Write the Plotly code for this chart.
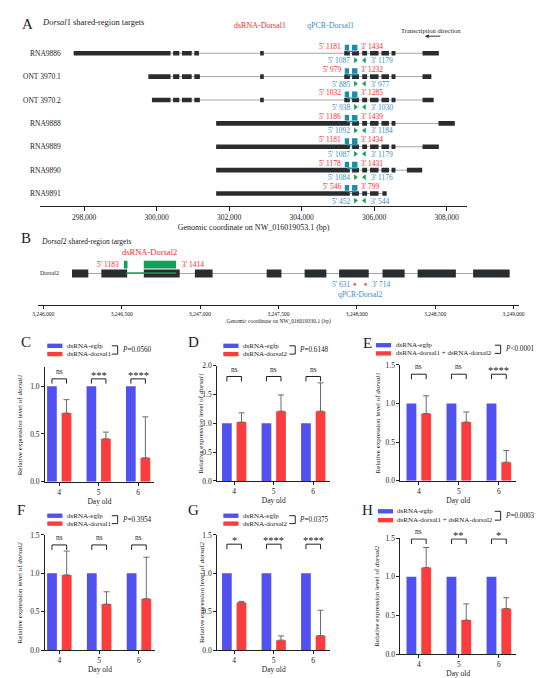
import plotly.graph_objects as go

W, H = 550, 678
SERIF = "Liberation Serif"
INK = "#222222"
BLUE_BAR = "#5151ef"
RED_BAR = "#fb3d3d"
ERR = "#6b6b6b"
EXON = "#2a2d30"
INTRON = "#a2a6aa"
TEAL = "#1b8ea6"
GREEN = "#12a058"
TXT_RED = "#f52a2e"
TXT_BLUE = "#3b8dca"

# ---- panel A: Dorsal1 transcripts, genomic bp on NW_016019053.1
transcripts = ["RNA9886", "ONT 3970.1", "ONT 3970.2", "RNA9888", "RNA9889", "RNA9890", "RNA9891"]
exons_rna9886 = [(297712, 300383), (300455, 300626), (300698, 300968), (301040, 301166), (302856, 302955),
                 (305176, 305329), (305392, 305581), (305671, 305806), (305887, 306121), (306202, 306409),
                 (306481, 306588), (307335, 307785)]
exons_ont1 = [(299772, 300383), (300455, 300626), (300698, 300968), (301040, 301193), (302856, 302955),
              (305176, 305329), (305392, 305581), (305671, 305806), (305887, 306121), (306202, 306409),
              (306481, 306588), (307335, 307578)]
exons_ont2 = [(299871, 300383), (300455, 300626), (300698, 300968), (301040, 301193), (302856, 302955),
              (305176, 305329), (305392, 305581), (305671, 305806), (305887, 306121), (306202, 306409),
              (306481, 306588), (307335, 307641)]
exons_rna9888 = [(301642, 305329), (305392, 305581), (305671, 305806), (305887, 306121), (306202, 306409),
                 (306481, 306588), (307776, 308225)]
exons_rna9889 = [(301642, 305329), (305392, 305581), (305671, 305806), (305887, 306121), (306202, 306409),
                 (306481, 306588), (307335, 307785)]
exons_rna9890 = [(301642, 305329), (305392, 305581), (305671, 305806), (305887, 306121), (306202, 306409),
                 (306481, 306588), (306903, 307326)]
exons_rna9891 = [(301642, 305329), (305392, 305581), (305671, 305806), (305887, 306121), (306229, 306346)]
dsrna1_blocks = [(305190, 305310), (305390, 305540)]
qpcr1_fwd = 305482
qpcr1_rev = 305734
dsrna1_5 = [1181, 979, 1032, 1186, 1181, 1178, 546]
dsrna1_3 = [1434, 1232, 1285, 1439, 1434, 1431, 799]
qpcr1_5 = [1087, 885, 938, 1092, 1087, 1084, 452]
qpcr1_3 = [1179, 977, 1030, 1184, 1179, 1176, 544]

# ---- panel B: Dorsal2, genomic bp on NW_016019330.1
exons_dorsal2 = [(3246183, 3246287), (3246370, 3246535), (3246641, 3246870), (3246967, 3247080),
                 (3247425, 3247519), (3247667, 3247806), (3247887, 3248076), (3248164, 3248305),
                 (3248388, 3248632), (3248742, 3248975)]
dsrna2_blocks = [(3246514, 3246537), (3246641, 3246847)]
qpcr2_fwd = 3247987
qpcr2_rev = 3248056

# ---- panels C-H: relative expression
days = ["4", "5", "6"]
egfp = [1.0, 1.0, 1.0]
c_trt = [0.72, 0.45, 0.25]
c_err = [0.14, 0.07, 0.43]
c_sig = ["ns", "***", "****"]
d_trt = [1.02, 1.21, 1.21]
d_err = [0.16, 0.28, 0.49]
d_sig = ["ns", "ns", "ns"]
e_trt = [0.87, 0.76, 0.24]
e_err = [0.23, 0.13, 0.15]
e_sig = ["ns", "ns", "****"]
f_trt = [0.98, 0.60, 0.67]
f_err = [0.31, 0.16, 0.54]
f_sig = ["ns", "ns", "ns"]
g_trt = [0.62, 0.13, 0.19]
g_err = [0.015, 0.055, 0.33]
g_sig = ["*", "****", "****"]
h_trt = [1.12, 0.44, 0.59]
h_err = [0.26, 0.21, 0.14]
h_sig = ["ns", "**", "*"]


def px(x):
    return x / W


def py(y):
    return 1 - y / H


fig = go.Figure()
shapes = []
notes = []


def note(text, x, y, size=8, color=INK, xanchor="center", yanchor="middle", xref="paper", yref="paper", **kw):
    notes.append(dict(text=text, x=x, y=y, xref=xref, yref=yref, showarrow=False, xanchor=xanchor,
                      yanchor=yanchor, font=dict(family=SERIF, size=size, color=color), **kw))


# ================= panel A =================
rows = [exons_rna9886, exons_ont1, exons_ont2, exons_rna9888, exons_rna9889, exons_rna9890, exons_rna9891]
for i, ex in enumerate(rows):
    fig.add_trace(go.Scatter(x=[ex[0][0], ex[-1][1]], y=[i, i], mode="lines", xaxis="x", yaxis="y",
                             line=dict(color=INTRON, width=1), hoverinfo="skip"))
    for a, b in ex:
        shapes.append(dict(type="rect", xref="x", yref="y", x0=a, x1=b, y0=i - 0.1, y1=i + 0.1,
                           fillcolor=EXON, line_width=0))
    for a, b in dsrna1_blocks:
        shapes.append(dict(type="rect", xref="x", yref="y", x0=a, x1=b, y0=i - 0.36, y1=i - 0.12,
                           fillcolor=TEAL, line_width=0))
    shapes.append(dict(type="line", xref="x", yref="y", x0=dsrna1_blocks[0][0] + 60, x1=dsrna1_blocks[1][1],
                       y0=i - 0.08, y1=i - 0.08, line=dict(color=TEAL, width=1.3)))
    fig.add_trace(go.Scatter(x=[qpcr1_fwd, qpcr1_rev], y=[i + 0.3, i + 0.3], mode="markers", xaxis="x", yaxis="y",
                             marker=dict(symbol=["triangle-right", "triangle-left"], size=5, color=GREEN),
                             hoverinfo="skip"))
    note(transcripts[i], px(50), i, size=7.5, xanchor="right", yref="y")
    note("5' %d" % dsrna1_5[i], dsrna1_blocks[0][0] - 60, i - 0.3, size=7.5, color=TXT_RED, xanchor="right",
         xref="x", yref="y")
    note("3' %d" % dsrna1_3[i], dsrna1_blocks[1][1] + 40, i - 0.3, size=7.5, color=TXT_RED, xanchor="left",
         xref="x", yref="y")
    note("5' %d" % qpcr1_5[i], qpcr1_fwd - 100, i + 0.32, size=7.5, color=TXT_BLUE, xanchor="right",
         xref="x", yref="y")
    note("3' %d" % qpcr1_3[i], qpcr1_rev + 120, i + 0.32, size=7.5, color=TXT_BLUE, xanchor="left",
         xref="x", yref="y")

note("A", px(13.5), py(12), size=15)
note("<i>Dorsal</i>1 shared-region targets", px(27), py(10), size=8.5, xanchor="left")
note("dsRNA-Dorsal1", px(251), py(14), size=8, color=TXT_RED)
note("qPCR-Dorsal1", px(324), py(14), size=8, color=TXT_BLUE)
note("Transcription direction", px(426), py(18.5), size=6.5)
notes.append(dict(x=px(420), y=py(24.5), xref="paper", yref="paper", text="", showarrow=True, ax=17, ay=0,
                  arrowhead=2, arrowsize=0.8, arrowwidth=1, arrowcolor="#333333"))

# ================= panel B =================
fig.add_trace(go.Scatter(x=[exons_dorsal2[0][0], exons_dorsal2[-1][1]], y=[0, 0], mode="lines",
                         xaxis="x2", yaxis="y2", line=dict(color=INTRON, width=1), hoverinfo="skip"))
for a, b in exons_dorsal2:
    shapes.append(dict(type="rect", xref="x2", yref="y2", x0=a, x1=b, y0=-4, y1=4, fillcolor=EXON, line_width=0))
for a, b in dsrna2_blocks:
    shapes.append(dict(type="rect", xref="x2", yref="y2", x0=a, x1=b, y0=5, y1=13, fillcolor=GREEN, line_width=0))
shapes.append(dict(type="line", xref="x2", yref="y2", x0=dsrna2_blocks[0][1] - 10, x1=dsrna2_blocks[1][1],
                   y0=0.5, y1=0.5, line=dict(color=GREEN, width=1.3)))
fig.add_trace(go.Scatter(x=[qpcr2_fwd, qpcr2_rev], y=[-11, -11], mode="markers", xaxis="x2", yaxis="y2",
                         marker=dict(size=3, color="#f06a78"), hoverinfo="skip"))
note("B", px(12.5), py(229), size=15)
note("<i>Dorsal</i>2 shared-region targets", px(26), py(232.7), size=7.5, xanchor="left")
note("Dorsal2", px(48), 0, size=6, xanchor="right", yref="y2")
note("dsRNA-Dorsal2", (dsrna2_blocks[0][0] + dsrna2_blocks[1][1]) / 2, 21.7, size=8.5, color=TXT_RED,
     xref="x2", yref="y2")
note("5' 1183", dsrna2_blocks[0][0] - 20, 9, size=7.5, color=TXT_RED, xanchor="right", xref="x2", yref="y2")
note("3' 1414", dsrna2_blocks[1][1] + 27, 9, size=7.5, color=TXT_RED, xanchor="left", xref="x2", yref="y2")
note("5' 631", qpcr2_fwd - 20, -11, size=7.5, color=TXT_BLUE, xanchor="right", xref="x2", yref="y2")
note("3' 714", qpcr2_rev + 30, -11, size=7.5, color=TXT_BLUE, xanchor="left", xref="x2", yref="y2")
note("qPCR-Dorsal2", (qpcr2_fwd + qpcr2_rev) / 2, -21.7, size=7.5, color=TXT_BLUE, xref="x2", yref="y2")

# ================= bar panels =================
panels = [
    dict(L="C", trt=c_trt, err=c_err, sig=c_sig, lab="dsRNA-dorsal1", p="<i>P</i>=0.0560", gene="dorsal1",
         xd=(31.7, 143), yd=(476, 360), ymax=1.2, xr=(-0.36, 2.4), br=1.078, leg=0.05,
         let=(12.5, 334), lx=34, ly=(338.3, 346.7), bx=100, ytx=7),
    dict(L="D", trt=d_trt, err=d_err, sig=d_sig, lab="dsRNA-dorsal2", p="<i>P</i>=0.6148", gene="dorsal1",
         xd=(207.7, 323.3), yd=(475.3, 358.3), ymax=2.0, xr=(-0.43, 2.43), br=1.81, leg=0.085,
         let=(184, 334), lx=214, ly=(338.3, 346.7), bx=281.5, ytx=191.7),
    dict(L="E", trt=e_trt, err=e_err, sig=e_sig, lab="dsRNA-dorsal1 + dsRNA-dorsal2", p="<i>P</i>&lt;0.0001",
         gene="dorsal1", xd=(395, 513.3), yd=(475, 357.7), ymax=1.5, xr=(-0.46, 2.43), br=1.38, leg=0.065,
         let=(361.5, 335), lx=370, ly=(337.7, 346), bx=491.5, ytx=371.7),
    dict(L="F", trt=f_trt, err=f_err, sig=f_sig, lab="dsRNA-dorsal1", p="<i>P</i>=0.3954", gene="dorsal2",
         xd=(31.7, 144), yd=(646.7, 530), ymax=1.5, xr=(-0.36, 2.4), br=1.37, leg=0.065,
         let=(7, 505), lx=34, ly=(510.5, 518.5), bx=100, ytx=6),
    dict(L="G", trt=g_trt, err=g_err, sig=g_sig, lab="dsRNA-dorsal2", p="<i>P</i>=0.0375", gene="dorsal2",
         xd=(207.7, 323.3), yd=(646.7, 530), ymax=1.5, xr=(-0.43, 2.43), br=1.38, leg=0.065,
         let=(184, 505), lx=214, ly=(510.5, 518.5), bx=281.5, ytx=191.7),
    dict(L="H", trt=h_trt, err=h_err, sig=h_sig, lab="dsRNA-dorsal1 + dsRNA-dorsal2", p="<i>P</i>=0.0003",
         gene="dorsal2", xd=(395, 513.3), yd=(650.7, 533.3), ymax=1.5, xr=(-0.46, 2.43), br=1.49, leg=0.065,
         let=(361.5, 505), lx=372, ly=(506, 515), bx=491.5, ytx=371.7),
]

half = 0.184
axes = {}
for k, pn in enumerate(panels):
    n = k + 3
    xa, ya = "x%d" % n, "y%d" % n
    pos = [0, 1, 2]
    fig.add_trace(go.Bar(x=pos, y=egfp, xaxis=xa, yaxis=ya, marker=dict(color=BLUE_BAR, line_width=0),
                         hoverinfo="skip"))
    fig.add_trace(go.Bar(x=pos, y=pn["trt"], xaxis=xa, yaxis=ya, marker=dict(color=RED_BAR, line_width=0),
                         error_y=dict(type="data", array=pn["err"], arrayminus=[0, 0, 0], symmetric=False,
                                      color=ERR, thickness=1, width=3),
                         hoverinfo="skip"))
    for j in pos:
        fig.add_trace(go.Scatter(x=[j - half, j - half, j + half, j + half],
                                 y=[pn["br"] - pn["leg"], pn["br"], pn["br"], pn["br"] - pn["leg"]],
                                 mode="lines", xaxis=xa, yaxis=ya, cliponaxis=False,
                                 line=dict(color=INK, width=1), hoverinfo="skip"))
        s = pn["sig"][j]
        note(s, j, pn["br"], size=7.5 if s == "ns" else 10.5, xref=xa, yref=ya, yanchor="bottom",
             yshift=1 if s == "ns" else -4)
    axes["xaxis%d" % n] = dict(domain=[px(pn["xd"][0]), px(pn["xd"][1])], anchor=ya, range=list(pn["xr"]),
                               tickvals=pos, ticktext=days, ticks="outside", ticklen=3, tickcolor=INK,
                               showline=True, linecolor=INK, linewidth=1, showgrid=False, zeroline=False,
                               tickfont=dict(family=SERIF, size=7.5, color=INK),
                               title=dict(text="Day old", font=dict(family=SERIF, size=7.5, color=INK),
                                          standoff=2))
    axes["yaxis%d" % n] = dict(domain=[py(pn["yd"][0]), py(pn["yd"][1])], anchor=xa, range=[0, pn["ymax"]],
                               dtick=0.5, tickformat=".1f", ticks="outside", ticklen=3, tickcolor=INK,
                               showline=True, linecolor=INK, linewidth=1, showgrid=False, zeroline=False,
                               tickfont=dict(family=SERIF, size=7.5, color=INK))
    note("Relative expression level of <i>%s</i>" % pn["gene"], px(pn["ytx"]),
         py((pn["yd"][0] + pn["yd"][1]) / 2), size=7, textangle=-90)
    # panel letter and legend
    note(pn["L"], px(pn["let"][0]), py(pn["let"][1]), size=15)
    for yy, col, txt in [(pn["ly"][0], BLUE_BAR, "dsRNA-egfp"), (pn["ly"][1], RED_BAR, pn["lab"])]:
        shapes.append(dict(type="rect", xref="paper", yref="paper", x0=px(pn["lx"]), x1=px(pn["lx"] + 15.5),
                           y0=py(yy + 2.2), y1=py(yy - 2.2), fillcolor=col, line_width=0))
        note(txt, px(pn["lx"] + 18), py(yy), size=7, xanchor="left")
    bx, y1, y2 = pn["bx"], pn["ly"][0], pn["ly"][1]
    shapes.append(dict(type="path", xref="paper", yref="paper",
                       path="M %f,%f L %f,%f L %f,%f L %f,%f" % (px(bx), py(y1), px(bx + 6), py(y1),
                                                                px(bx + 6), py(y2), px(bx), py(y2)),
                       line=dict(color=INK, width=1)))
    note(pn["p"], px(bx + 8), py((y1 + y2) / 2), size=7.2, xanchor="left")

fig.update_layout(
    width=W, height=H, margin=dict(l=0, r=0, t=0, b=0),
    paper_bgcolor="white", plot_bgcolor="white", showlegend=False,
    barmode="group", bargap=0.263, bargroupgap=0.333,
    xaxis=dict(domain=[px(27), px(463)], anchor="y", range=[296794, 308559], tick0=298000, dtick=2000,
               tickformat=",d", ticks="outside", ticklen=4, tickcolor=INK, showline=True, linecolor=INK,
               showgrid=False, zeroline=False, tickfont=dict(family=SERIF, size=7.5, color=INK),
               title=dict(text="Genomic coordinate on NW_016019053.1 (bp)",
                          font=dict(family=SERIF, size=8, color=INK), standoff=3)),
    yaxis=dict(domain=[py(197), py(20)], anchor="x", range=[6.55, -0.92], visible=False),
    xaxis2=dict(domain=[px(25), px(516)], anchor="y2", range=[3245969, 3249033], tick0=3246000, dtick=500,
                tickformat=",d", ticks="outside", ticklen=3, tickcolor=INK, showline=True, linecolor=INK,
                showgrid=False, zeroline=False, tickfont=dict(family=SERIF, size=5.5, color=INK),
                title=dict(text="Genomic coordinate on NW_016019330.1 (bp)",
                           font=dict(family=SERIF, size=5.5, color=INK), standoff=3)),
    yaxis2=dict(domain=[py(297.3), py(238)], anchor="x2", range=[-32.3, 27], visible=False),
    shapes=shapes, annotations=notes,
)
fig.update_layout(**axes)

fig.write_html("out.html")
